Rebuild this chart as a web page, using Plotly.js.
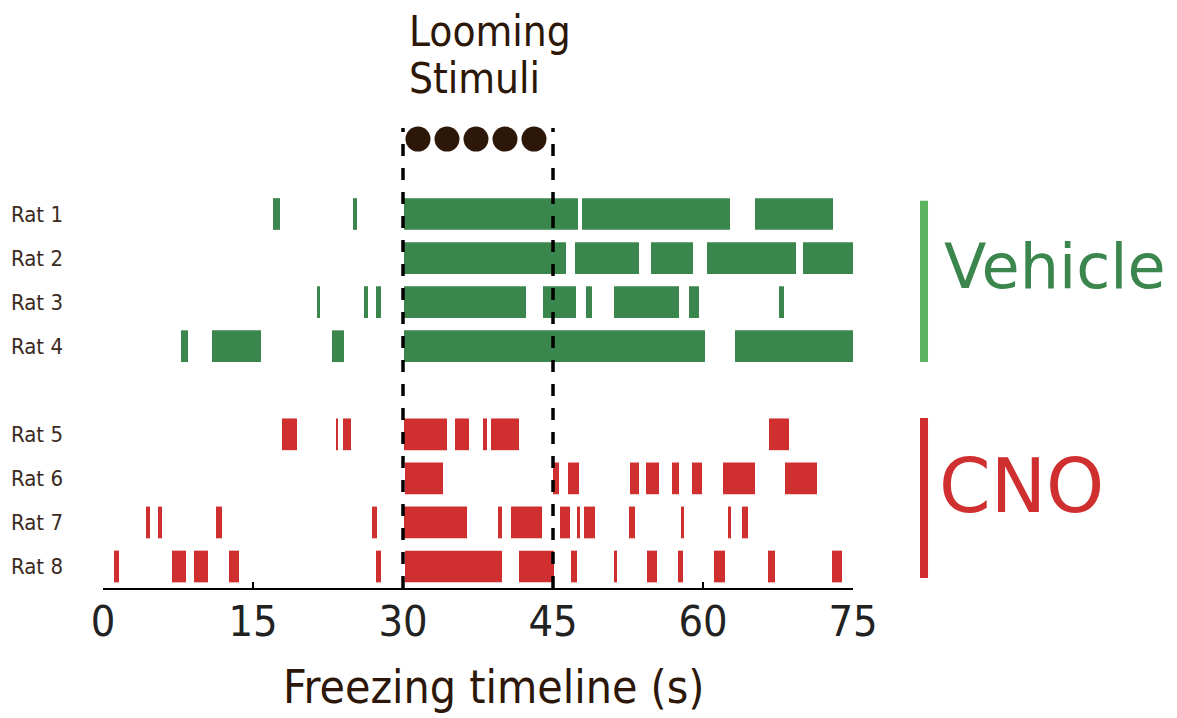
<!DOCTYPE html>
<html>
<head>
<meta charset="utf-8">
<script src="https://cdn.plot.ly/plotly-3.0.1.min.js"></script>
<style>html,body{margin:0;padding:0;background:#fff;}#chart{width:1177px;height:718px;}</style>
</head>
<body>
<div id="chart"></div>
<script>
// Freezing episodes [start, end] in seconds
const rat1 = [[17.0,17.7],[25.0,25.4],[30.1,47.5],[47.9,62.7],[65.2,73.0]];
const rat2 = [[30.1,46.3],[47.2,53.6],[54.8,59.0],[60.4,69.3],[70.0,75.0]];
const rat3 = [[21.4,21.7],[26.1,26.5],[27.3,27.8],[30.1,42.3],[44.0,47.3],[48.3,48.9],[51.1,57.6],[58.6,59.6],[67.6,68.1]];
const rat4 = [[7.8,8.5],[10.9,15.8],[22.9,24.1],[30.1,60.2],[63.2,75.0]];
const rat5 = [[17.9,19.4],[23.3,23.5],[24.0,24.8],[30.1,34.4],[35.2,36.6],[38.0,38.4],[38.8,41.6],[66.6,68.6]];
const rat6 = [[30.2,34.0],[45.0,45.6],[46.5,47.6],[52.7,53.6],[54.3,55.6],[56.9,57.6],[58.9,59.9],[62.0,65.2],[68.2,71.4]];
const rat7 = [[4.3,4.7],[5.5,5.9],[11.3,11.9],[26.9,27.4],[30.1,36.4],[39.5,39.9],[40.8,43.9],[45.7,46.7],[47.4,47.7],[48.1,49.2],[52.6,53.2],[57.8,58.1],[62.5,62.8],[63.9,64.5]];
const rat8 = [[1.1,1.6],[6.9,8.3],[9.1,10.5],[12.6,13.6],[27.3,27.8],[30.2,39.9],[41.6,45.1],[46.8,47.4],[51.1,51.4],[54.4,55.4],[57.5,58.0],[61.1,62.2],[66.5,67.2],[72.9,73.9]];

const ratLabels = ["Rat 1","Rat 2","Rat 3","Rat 4","Rat 5","Rat 6","Rat 7","Rat 8"];
const ratRows = [9,8,7,6,4,3,2,1];
const ratGroups = ["Vehicle","Vehicle","Vehicle","Vehicle","CNO","CNO","CNO","CNO"];
const stimulusTimes = [31.5,34.4,37.3,40.2,43.1];
const stimulusWindow = [30,45];
const stimulusRow = 10.7;
const xTicks = [0,15,30,45,60,75];

const GREEN = "#3b864d", RED = "#cf2f2f", DARK = "#2c1708";
const COND = "DejaVu Sans Condensed, DejaVu Sans, sans-serif";
const allRats = [rat1,rat2,rat3,rat4,rat5,rat6,rat7,rat8];

const traces = allRats.map((segs, i) => ({
  type: "bar", orientation: "h",
  y: segs.map(() => ratRows[i]),
  x: segs.map(s => s[1] - s[0]),
  base: segs.map(s => s[0]),
  width: 0.72,
  marker: {color: ratGroups[i] === "Vehicle" ? GREEN : RED, line: {width: 0}},
  hoverinfo: "skip", showlegend: false
}));

traces.push({
  type: "scatter", mode: "markers",
  x: stimulusTimes, y: stimulusTimes.map(() => stimulusRow),
  marker: {size: 25, color: DARK},
  cliponaxis: false, hoverinfo: "skip", showlegend: false
});

const shapes = stimulusWindow.map(t => ({
  type: "line", xref: "x", yref: "paper", x0: t, x1: t, y0: 0, y1: 1,
  line: {color: "#000", width: 3.5, dash: "12px,12px"}, layer: "above"
}));
shapes.push({type:"line", xref:"paper", yref:"y", x0:1.0947, x1:1.0947, y0:5.64, y1:9.3, line:{color:"#5db460", width:8}});
shapes.push({type:"line", xref:"paper", yref:"y", x0:1.0947, x1:1.0947, y0:0.74, y1:4.37, line:{color:RED, width:8}});

const annotations = [
  {xref:"paper", yref:"paper", x:(407-103)/750, y:1.21, xanchor:"left", yanchor:"middle", showarrow:false,
   text:"Looming", font:{family:COND, size:42, color:DARK}},
  {xref:"paper", yref:"paper", x:(407-103)/750, y:1.107, xanchor:"left", yanchor:"middle", showarrow:false,
   text:"Stimuli", font:{family:COND, size:42, color:DARK}},
  {xref:"paper", yref:"y", x:1.118, y:7.82, xanchor:"left", yanchor:"middle", showarrow:false,
   text:"Vehicle", font:{family:"DejaVu Sans, sans-serif", size:62, color:GREEN}},
  {xref:"paper", yref:"y", x:1.112, y:2.82, xanchor:"left", yanchor:"middle", showarrow:false,
   text:"CNO", font:{family:"DejaVu Sans, sans-serif", size:74, color:RED}},
  {xref:"paper", yref:"paper", x:(493.5-103)/750, y:-0.215, xanchor:"center", yanchor:"middle", showarrow:false,
   text:"Freezing timeline (s)", font:{family:COND, size:46, color:DARK}}
];

const layout = {
  width: 1177, height: 718,
  margin: {l: 103, r: 324, t: 128, b: 130, pad: 0},
  paper_bgcolor: "#fff", plot_bgcolor: "#fff",
  barmode: "overlay",
  xaxis: {range: [0,75], tickvals: xTicks, ticktext: xTicks.map(String),
    ticks: "inside", ticklen: 6, tickwidth: 1.5, tickcolor: "#000",
    showline: true, linewidth: 1.5, linecolor: "#000", showgrid: false, zeroline: false,
    ticklabelstandoff: -5,
    tickfont: {family: COND, size: 43, color: "#222"}, fixedrange: true},
  yaxis: {range: [0.512, 10.952], tickvals: ratRows, ticktext: ratLabels,
    ticks: "", showline: false, showgrid: false, zeroline: false,
    ticklabelstandoff: 39,
    tickfont: {family: COND, size: 22, color: "#3b2a1e"}, fixedrange: true},
  shapes: shapes,
  annotations: annotations
};

Plotly.newPlot("chart", traces, layout, {displayModeBar: false, staticPlot: true});
</script>
</body>
</html>
